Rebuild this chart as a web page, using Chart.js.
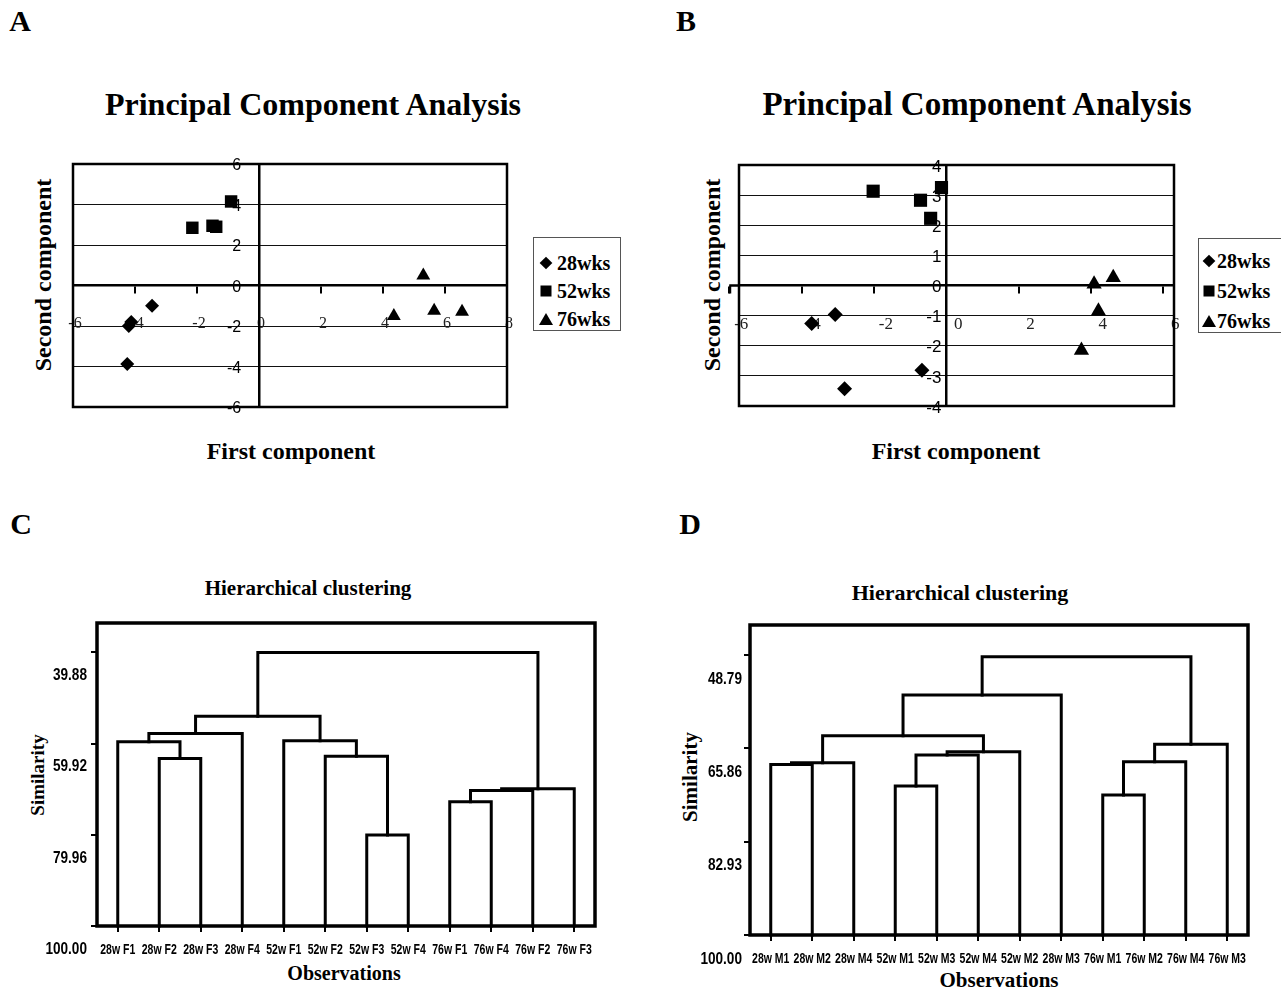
<!DOCTYPE html>
<html>
<head>
<meta charset="utf-8">
<script src="https://cdn.jsdelivr.net/npm/chart.js@4.4.1/dist/chart.umd.min.js"></script>
<style>
  body { margin: 0; background: #fff; width: 1281px; height: 990px; position: relative; overflow: hidden;
         font-family: 'Liberation Serif', 'Times New Roman', serif; }
  .t { position: absolute; white-space: nowrap; line-height: 1; font-weight: bold; color: #000;
       transform: translate(-50%, -50%); }
  .r { transform: translate(-50%, -50%) rotate(-90deg); }
  canvas { position: absolute; }
  .legend { position: absolute; border: 1px solid #555; background: #fff; }
  .legend .row { position: absolute; left: 0; white-space: nowrap; font-weight: bold; font-size: 20px; line-height: 1; transform: translateY(-50%); }
  .legend .mk { position: absolute; transform: translate(-50%, -50%); }
  .dia { width: 9px; height: 9px; background: #000; transform: translate(-50%, -50%) rotate(45deg) !important; }
  .sq { width: 11px; height: 11px; background: #000; }
  .tri { width: 0; height: 0; border-left: 7px solid transparent; border-right: 7px solid transparent; border-bottom: 12px solid #000; }
</style>
</head>
<body>

<div class="t" style="left:20px;top:21px;font-size:30px">A</div>
<div class="t" style="left:686px;top:21px;font-size:30px">B</div>
<div class="t" style="left:21px;top:524px;font-size:30px">C</div>
<div class="t" style="left:690px;top:524px;font-size:30px">D</div>

<div class="t" style="left:313px;top:104px;font-size:32px">Principal Component Analysis</div>
<div class="t" style="left:977px;top:104px;font-size:33px">Principal Component Analysis</div>
<div class="t" style="left:291px;top:451px;font-size:24px">First component</div>
<div class="t" style="left:956px;top:451px;font-size:24px">First component</div>
<div class="t r" style="left:43px;top:275px;font-size:24px">Second component</div>
<div class="t r" style="left:712px;top:275px;font-size:24px">Second component</div>

<div class="t" style="left:308px;top:588px;font-size:21px">Hierarchical clustering</div>
<div class="t" style="left:960px;top:593px;font-size:22px">Hierarchical clustering</div>
<div class="t" style="left:344px;top:973px;font-size:20px">Observations</div>
<div class="t" style="left:999px;top:980px;font-size:21px">Observations</div>
<div class="t r" style="left:37px;top:775px;font-size:19px">Similarity</div>
<div class="t r" style="left:690px;top:777px;font-size:21px">Similarity</div>

<div class="legend" style="left:533px;top:237px;width:86px;height:92px">
  <div class="mk dia" style="left:12px;top:25px"></div><div class="row" style="left:23px;top:25px">28wks</div>
  <div class="mk sq" style="left:12px;top:53px"></div><div class="row" style="left:23px;top:53px">52wks</div>
  <div class="mk tri" style="left:12px;top:81px"></div><div class="row" style="left:23px;top:81px">76wks</div>
</div>
<div class="legend" style="left:1198px;top:238px;width:100px;height:93px">
  <div class="mk dia" style="left:10px;top:22px"></div><div class="row" style="left:18px;top:22px">28wks</div>
  <div class="mk sq" style="left:10px;top:52px"></div><div class="row" style="left:18px;top:52px">52wks</div>
  <div class="mk tri" style="left:10px;top:82px"></div><div class="row" style="left:18px;top:82px">76wks</div>
</div>

<canvas id="pcaA" width="660" height="310" style="left:0;top:140px"></canvas>
<canvas id="pcaB" width="621" height="310" style="left:660px;top:140px"></canvas>
<canvas id="dendC" width="640" height="390" style="left:0;top:600px"></canvas>
<canvas id="dendD" width="621" height="390" style="left:660px;top:600px"></canvas>

<script>
// ---- data: PCA panel A (first, second component) ----
const a28wks = [[-4.2, -2.0], [-4.12, -1.8], [-3.45, -1.0], [-4.25, -3.88]];
const a52wks = [[-2.15, 2.85], [-1.5, 2.95], [-1.38, 2.9], [-0.9, 4.15]];
const a76wks = [[4.35, -1.5], [5.3, 0.5], [5.65, -1.25], [6.55, -1.3]];
const aXTicks = [-6, -4, -2, 0, 2, 4, 6, 8];
const aYTicks = [-6, -4, -2, 0, 2, 4, 6];

// ---- data: PCA panel B ----
const b28wks = [[-3.72, -1.26], [-3.07, -0.96], [-0.67, -2.81], [-2.81, -3.43]];
const b52wks = [[-2.02, 3.13], [-0.71, 2.83], [-0.43, 2.23], [-0.13, 3.25]];
const b76wks = [[4.09, 0.05], [4.62, 0.26], [4.21, -0.85], [3.74, -2.15]];
const bXTicks = [-6, -4, -2, 0, 2, 4, 6];
const bYTicks = [-4, -3, -2, -1, 0, 1, 2, 3, 4];

// ---- data: dendrogram C (leaf order, merges [left node, right node, similarity]) ----
const cLeaves = ['28w F1', '28w F2', '28w F3', '28w F4', '52w F1', '52w F2', '52w F3', '52w F4',
                 '76w F1', '76w F4', '76w F2', '76w F3'];
const cMerges = [[1, 2, 63.2], [0, 12, 59.5], [13, 3, 57.7], [6, 7, 80.0], [5, 15, 62.7], [4, 16, 59.3],
                 [14, 17, 53.9], [8, 9, 72.7], [19, 10, 70.2], [20, 11, 69.85], [18, 21, 39.9]];
const cYTicks = [39.88, 59.92, 79.96, 100];

// ---- data: dendrogram D ----
const dLeaves = ['28w M1', '28w M2', '28w M4', '52w M1', '52w M3', '52w M4', '52w M2', '28w M3',
                 '76w M1', '76w M2', '76w M4', '76w M3'];
const dMerges = [[0, 1, 68.8], [12, 2, 68.5], [3, 4, 72.75], [14, 5, 67.1], [15, 6, 66.5], [13, 16, 63.55],
                 [17, 7, 56.1], [8, 9, 74.4], [19, 10, 68.3], [20, 11, 65.1], [18, 21, 49.1]];
const dYTicks = [48.79, 65.86, 82.93, 100];

const SERIF = "'Liberation Serif', 'Times New Roman', serif";
const SANS = "'Liberation Sans', Arial, sans-serif";

// box round the plot area (and, for B, the bit of x axis that sticks out on the left)
const frame = {
    id: 'frame',
    beforeDatasetsDraw(chart, args, opts) {
        const { ctx, chartArea: a, scales } = chart;
        ctx.save();
        ctx.strokeStyle = '#000';
        ctx.lineWidth = opts.width || 2.5;
        ctx.strokeRect(a.left, a.top, a.right - a.left, a.bottom - a.top);
        if (opts.stubFrom !== undefined) {
            const x0 = scales.x.getPixelForValue(opts.stubFrom);
            const y0 = scales.y.getPixelForValue(0);
            ctx.beginPath();
            ctx.moveTo(x0, y0);
            ctx.lineTo(a.left, y0);
            ctx.stroke();
            ctx.lineWidth = 2;
            ctx.beginPath();
            ctx.moveTo(x0 + 1, y0);
            ctx.lineTo(x0 + 1, y0 + 8);
            ctx.stroke();
        }
        ctx.restore();
    }
};

// condensed tick labels for the dendrograms (no narrow font is installed)
const narrowLabels = {
    id: 'narrowLabels',
    afterDraw(chart, args, o) {
        const { ctx, chartArea: a, scales: { x, y } } = chart;
        ctx.save();
        ctx.fillStyle = '#000';
        ctx.textBaseline = 'middle';
        ctx.font = 'bold 15px ' + SANS;
        ctx.textAlign = 'center';
        x.ticks.forEach((t, i) => {
            ctx.save();
            ctx.translate(x.getPixelForValue(t.value), a.bottom + 24);
            ctx.scale(0.7, 1);
            ctx.fillText(o.leaves[i], 0, 0);
            ctx.restore();
        });
        ctx.font = 'bold 17px ' + SANS;
        ctx.textAlign = 'right';
        y.ticks.forEach(t => {
            ctx.save();
            ctx.translate(a.left - o.gap, y.getPixelForValue(t.value) + o.shift);
            ctx.scale(0.8, 1);
            ctx.fillText(t.value.toFixed(2), 0, 0);
            ctx.restore();
        });
        ctx.restore();
    }
};

function pts(list) {
    return list.map(([x, y]) => ({ x, y }));
}

function pcaChart(id, series, sizes, cfg) {
    const styles = ['rectRot', 'rect', 'triangle'];
    new Chart(document.getElementById(id), {
        type: 'scatter',
        data: {
            datasets: series.map((s, i) => ({
                data: pts(s),
                pointStyle: styles[i],
                pointRadius: sizes[i],
                pointHoverRadius: sizes[i],
                backgroundColor: '#000',
                borderColor: '#000',
                borderWidth: 0,
                clip: false
            }))
        },
        plugins: [frame],
        options: {
            responsive: false,
            animation: false,
            layout: { padding: cfg.padding },
            plugins: { legend: { display: false }, tooltip: { enabled: false },
                       frame: { width: 2.5, stubFrom: cfg.stubFrom } },
            scales: {
                x: {
                    type: 'linear', min: cfg.xMin, max: cfg.xMax, position: { y: 0 },
                    afterBuildTicks: s => { s.ticks = cfg.xTicks.map(v => ({ value: v })); },
                    grid: { drawOnChartArea: false, tickLength: 7, color: '#000', lineWidth: 2 },
                    border: { display: true, color: '#000', width: 2.5 },
                    ticks: { padding: 22, labelOffset: cfg.xLabelOffset, autoSkip: false, maxRotation: 0,
                             color: '#222', font: { family: SERIF, size: cfg.xFont } }
                },
                y: {
                    type: 'linear', min: cfg.yMin, max: cfg.yMax, position: { x: 0 },
                    afterBuildTicks: s => { s.ticks = cfg.yTicks.map(v => ({ value: v })); },
                    grid: { color: '#111', lineWidth: 1, tickLength: 4 },
                    border: { display: true, color: '#000', width: 2.5 },
                    ticks: { labelOffset: 2, color: '#000', font: { family: SANS, size: cfg.yFont },
                             callback: v => String(v) + cfg.yGap }
                }
            }
        }
    });
}

pcaChart('pcaA', [a28wks, a52wks, a76wks], [7, 8.8, 8], {
    padding: { left: 73, top: 24, right: 153, bottom: 43 },
    xMin: -6, xMax: 8, yMin: -6, yMax: 6, xTicks: aXTicks, yTicks: aYTicks,
    xLabelOffset: 2, xFont: 16, yFont: 16, yGap: '    '
});

pcaChart('pcaB', [b28wks, b52wks, b76wks], [7.5, 9.3, 8.8], {
    padding: { left: 79, top: 25, right: 107, bottom: 44 },
    xMin: -5.73, xMax: 6.3, yMin: -4, yMax: 4, xTicks: bXTicks, yTicks: bYTicks,
    xLabelOffset: 12, xFont: 17, yFont: 17, yGap: ' ', stubFrom: -6
});

function dendroLines(leafCount, merges) {
    const xs = [], ys = [];
    for (let i = 0; i < leafCount; i++) { xs.push(i + 1); ys.push(100); }
    return merges.map(([a, b, h]) => {
        const seg = [{ x: xs[a], y: ys[a] }, { x: xs[a], y: h }, { x: xs[b], y: h }, { x: xs[b], y: ys[b] }];
        xs.push((xs[a] + xs[b]) / 2);
        ys.push(h);
        return { data: seg, showLine: true, borderColor: '#000', borderWidth: 3, pointRadius: 0,
                 borderJoinStyle: 'miter', borderCapStyle: 'square', tension: 0, fill: false, clip: false };
    });
}

function dendroChart(id, leaves, merges, yTicks, yMin, cfg) {
    new Chart(document.getElementById(id), {
        type: 'scatter',
        data: { datasets: dendroLines(leaves.length, merges) },
        plugins: [frame, narrowLabels],
        options: {
            responsive: false,
            animation: false,
            layout: { padding: cfg.padding },
            plugins: {
                legend: { display: false }, tooltip: { enabled: false }, frame: { width: 3.5 },
                narrowLabels: { leaves: leaves, gap: cfg.gap, shift: cfg.shift }
            },
            scales: {
                x: {
                    type: 'linear', min: 0.5, max: leaves.length + 0.5, position: 'bottom',
                    afterBuildTicks: s => { s.ticks = leaves.map((l, i) => ({ value: i + 1 })); },
                    afterFit: s => { s.height = cfg.xHeight; },
                    grid: { drawOnChartArea: false, tickLength: 6, color: '#000', lineWidth: 2 },
                    border: { display: false },
                    ticks: { display: false }
                },
                y: {
                    type: 'linear', min: yMin, max: 100, reverse: true, position: 'left',
                    afterBuildTicks: s => { s.ticks = yTicks.map(v => ({ value: v })); },
                    afterFit: s => { s.width = 50; },
                    grid: { drawOnChartArea: false, tickLength: 6, color: '#000', lineWidth: 2 },
                    border: { display: false },
                    ticks: { display: false }
                }
            }
        }
    });
}

dendroChart('dendC', cLeaves, cMerges, cYTicks, 33.4, {
    padding: { left: 47, top: 23, right: 45, bottom: 24 }, xHeight: 40, gap: 10, shift: 23
});
dendroChart('dendD', dLeaves, dMerges, dYTicks, 43.3, {
    padding: { left: 40, top: 25, right: 33, bottom: 19 }, xHeight: 36, gap: 8, shift: 24
});
</script>
</body>
</html>
